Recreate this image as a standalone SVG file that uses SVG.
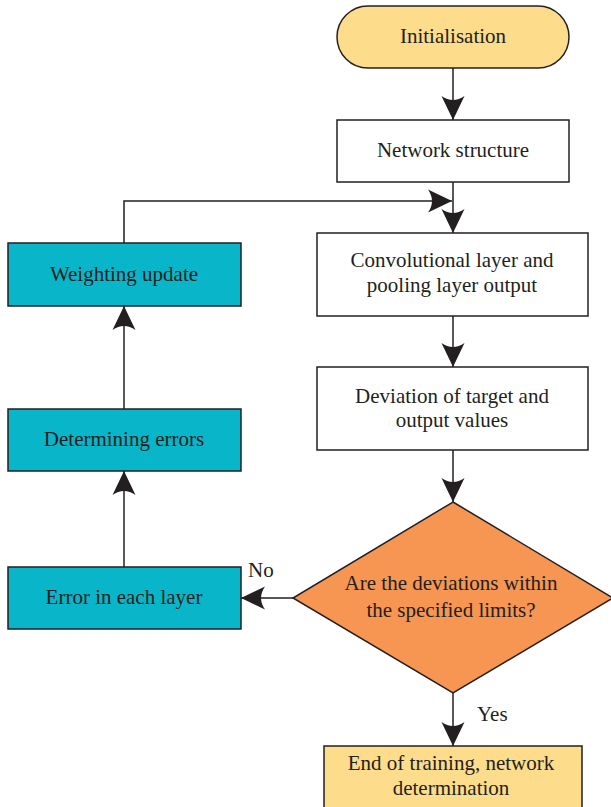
<svg xmlns="http://www.w3.org/2000/svg" width="611" height="807" viewBox="0 0 611 807">
<style>
.box{stroke:#231f20;stroke-width:1.5}
.w{fill:#ffffff}
.y{fill:#fddc8b}
.c{fill:#09b5c8}
.o{fill:#f79552}
.t{font-family:"Liberation Serif","Times New Roman",serif;font-size:21px;fill:#231f20;text-anchor:middle}
.lbl{font-family:"Liberation Serif","Times New Roman",serif;font-size:21px;fill:#231f20}
.ln{fill:none;stroke:#231f20;stroke-width:1.5}
</style>
<defs>
<marker id="ah" markerUnits="userSpaceOnUse" viewBox="-25 -13 26 26" refX="0" refY="0" markerWidth="26" markerHeight="26" orient="auto">
<path d="M0,0 L-24,-11.5 Q-16,0 -24,11.5 Z" fill="#231f20"/>
</marker>
</defs>
<g id="connectors">
<line class="ln" x1="453" y1="68" x2="453" y2="120" marker-end="url(#ah)"/>
<line class="ln" x1="453" y1="182" x2="453" y2="233" marker-end="url(#ah)"/>
<polyline class="ln" points="124,243 124,201 452,201" marker-end="url(#ah)"/>
<line class="ln" x1="453" y1="316" x2="453" y2="367" marker-end="url(#ah)"/>
<line class="ln" x1="453" y1="450" x2="453" y2="502" marker-end="url(#ah)"/>
<line class="ln" x1="293" y1="598" x2="241" y2="598" marker-end="url(#ah)"/>
<line class="ln" x1="124" y1="567" x2="124" y2="471" marker-end="url(#ah)"/>
<line class="ln" x1="124" y1="409" x2="124" y2="306" marker-end="url(#ah)"/>
<line class="ln" x1="453" y1="693" x2="453" y2="746" marker-end="url(#ah)"/>
<text class="lbl" x="248" y="577">No</text>
<text class="lbl" x="477" y="721">Yes</text>
</g>
<g id="initialisation">
<rect class="box y" x="337" y="6" width="232" height="62" rx="31" ry="31"/>
<text class="t" x="453" y="43">Initialisation</text>
</g>
<g id="network-structure">
<rect class="box w" x="337" y="120" width="232" height="62"/>
<text class="t" x="453" y="157">Network structure</text>
</g>
<g id="conv-pool">
<rect class="box w" x="317" y="233" width="271" height="83"/>
<text class="t" x="452" y="267">Convolutional layer and</text>
<text class="t" x="452" y="292">pooling layer output</text>
</g>
<g id="deviation">
<rect class="box w" x="317" y="367" width="271" height="83"/>
<text class="t" x="452" y="403">Deviation of target and</text>
<text class="t" x="452" y="427">output values</text>
</g>
<g id="decision">
<polygon class="box o" points="453,502 613,598 453,693 293,598"/>
<text class="t" x="451" y="590">Are the deviations within</text>
<text class="t" x="451" y="617">the specified limits?</text>
</g>
<g id="weighting-update">
<rect class="box c" x="8" y="243" width="233" height="63"/>
<text class="t" x="124" y="281">Weighting update</text>
</g>
<g id="determining-errors">
<rect class="box c" x="8" y="409" width="233" height="62"/>
<text class="t" x="124" y="446">Determining errors</text>
</g>
<g id="error-each-layer">
<rect class="box c" x="8" y="567" width="233" height="62"/>
<text class="t" x="124" y="604">Error in each layer</text>
</g>
<g id="end">
<rect class="box y" x="324" y="746" width="258" height="70"/>
<text class="t" x="451" y="770">End of training, network</text>
<text class="t" x="451" y="795">determination</text>
</g>
</svg>
